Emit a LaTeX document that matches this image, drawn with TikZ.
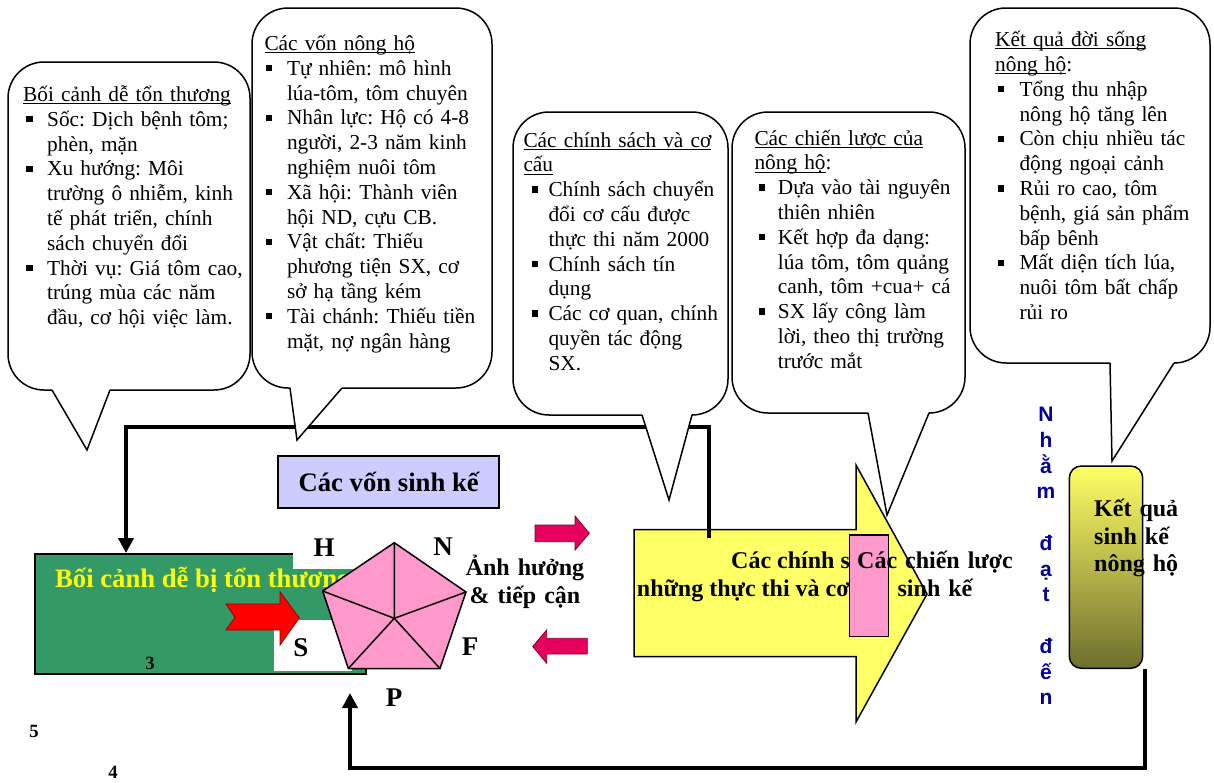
\documentclass[tikz,border=0pt]{standalone}
\usepackage{fontspec}
\setmainfont{Liberation Serif}
\newfontfamily\arialf{Liberation Sans}
\usetikzlibrary{arrows.meta}
\frenchspacing
\definecolor{vgreen}{HTML}{339966}
\definecolor{ptxt}{HTML}{FFFF00}
\definecolor{ppink}{HTML}{FF99CC}
\definecolor{lav}{HTML}{CCCCFF}
\definecolor{yarrow}{HTML}{FFFF66}
\definecolor{crim}{HTML}{E8005E}
\definecolor{nblue}{HTML}{000099}
\definecolor{olivebot}{HTML}{6E6E2D}
\definecolor{olivemid}{HTML}{D4D45A}
\newlength\bitind
\newlength\bitoff
\newcommand\nl{\unskip\hfil\break}
\newcommand\ulx[1]{\leavevmode\setbox0\hbox{#1}\rlap{\rule[-2.6pt]{\wd0}{0.9pt}}\box0}
\newcommand\bit[1]{\par\hangindent=\bitind\hangafter=1\noindent\makebox[\bitind][l]{\hspace{\bitoff}\raisebox{4pt}{\rule{6.4pt}{6.4pt}}}#1\par}
\newcommand\callout[8]{%
 \fill[white,rounded corners=36pt] (#1,#2) rectangle (#3,#4);
 \fill[white] (#5,#4-2) -- (#7,#8) -- (#6,#4-2) -- cycle;
 \draw[callline,rounded corners=36pt] (#5,#4) -- (#1,#4) -- (#1,#2) -- (#3,#2) -- (#3,#4) -- (#6,#4);
 \draw[callline,line join=miter] (#5,#4) -- (#7,#8) -- (#6,#4);}
\begin{document}
\begin{tikzpicture}[x=1pt,y=-1pt,
  callline/.style={line width=1.5pt},
  thickc/.style={line width=4pt,line join=miter},
  ctext/.style={font=\fontsize{21.33}{24.8}\selectfont\frenchspacing,text width=250pt,align=left,inner sep=0pt,anchor=base west},
  bigb/.style={font=\fontsize{24}{28.4}\selectfont\bfseries,inner sep=0pt},
  lett/.style={font=\fontsize{27}{30}\selectfont\bfseries,inner sep=0pt,anchor=base},
  numb/.style={font=\fontsize{18.7}{20}\selectfont\bfseries,inner sep=0pt,anchor=base},
  tip/.style={-{Triangle[width=15pt,length=15pt]}}]
\useasboundingbox (0,0) rectangle (1214,782);

% ---- green vulnerability box
\node[draw,fill=vgreen,line width=1.8pt,minimum width=331pt,minimum height=120pt,inner sep=0pt,anchor=north west] (vul) at (34,553) {};
\fill[white] (293,549) rectangle (367,569);
\fill[white] (274,620) rectangle (352,670.5);
\node[font=\fontsize{26.67}{30}\selectfont\bfseries,text=ptxt,inner sep=0pt,anchor=base west] (vultxt) at (55,587.3) {Bối cảnh dễ bị tổn thương};
\draw[fill=red,draw={rgb,255:red,150;green,0;blue,0},line width=0.8pt] (226,604) -- (280,604) -- (280,591.7) -- (299.3,618) -- (280,645) -- (280,630) -- (226,630) -- (235,617.3) -- cycle;

% ---- pentagon
\coordinate (pA) at (394.3,542.7);
\coordinate (pB) at (466,592);
\coordinate (pC) at (440,668.5);
\coordinate (pD) at (348.3,668.5);
\coordinate (pE) at (322.7,591);
\coordinate (pO) at (394.3,618.3);
\draw[fill=ppink,line width=1.5pt,line join=miter] (pA) -- (pB) -- (pC) -- (pD) -- (pE) -- cycle;
\draw[line width=1.5pt] (pO) -- (pA) (pO) -- (pB) (pO) -- (pC) (pO) -- (pD) (pO) -- (pE);
\node[lett] (lH) at (324,556) {H};
\node[lett] (lN) at (443,555) {N};
\node[lett] (lS) at (301,656.7) {S};
\node[lett] (lF) at (470,655) {F};
\node[lett] (lP) at (394,706.7) {P};

% ---- livelihood assets box
\node[draw,fill=lav,line width=2pt,minimum width=220.7pt,minimum height=51.7pt,inner sep=0pt,
  font=\fontsize{26.67}{30}\selectfont\bfseries,text height=21pt,text depth=1.3pt] (assets) at (388.65,481.85) {Các vốn sinh kế};

% ---- influence arrows
\node[font=\fontsize{24}{28}\selectfont\bfseries,text width=140pt,align=center,inner sep=0pt,anchor=base] (infl) at (525,575) {Ảnh hưởng\\\& tiếp cận};
\draw[fill=crim,draw={rgb,255:red,120;green,0;blue,40},line width=0.8pt] (535,525) -- (575,525) -- (575,516) -- (589.3,533.3) -- (575,550) -- (575,541.7) -- (535,541.7) -- cycle;
\draw[fill=crim,draw={rgb,255:red,120;green,0;blue,40},line width=0.8pt] (587.3,638.3) -- (546.7,638.3) -- (546.7,630) -- (532.7,646.5) -- (546.7,663.3) -- (546.7,654) -- (587.3,654) -- cycle;

% ---- yellow arrow (policies / strategies)
\draw[fill=yarrow,line width=1.5pt,line join=miter] (634,529.5) -- (856,529.5) -- (856,465) -- (927,594) -- (856,722) -- (856,656.7) -- (634,656.7) -- cycle;
\node[bigb,anchor=base west] (pol1) at (731,568.3) {Các chính s};
\node[bigb,anchor=base west] (pol2) at (636.7,596.7) {những thực thi và cơ};
\node[draw,fill=ppink,line width=1.5pt,minimum width=39pt,minimum height=101.7pt,inner sep=0pt] (prect) at (868.8,585.85) {};
\node[bigb,text width=200pt,align=center,anchor=base] (strat) at (935,568.3) {Các chiến lược\\sinh kế};

% ---- outcome box
\node[draw,line width=1.5pt,rounded corners=12pt,top color=yarrow,middle color=olivemid,bottom color=olivebot,
  minimum width=73.4pt,minimum height=202.3pt,inner sep=0pt] (kq) at (1106,567.15) {};
\node[font=\fontsize{24}{27.5}\selectfont\bfseries,text width=100pt,align=left,inner sep=0pt,anchor=base west] (kqtxt) at (1094,516.7) {Kết quả\\sinh kế\\nông hộ};

\node[font=\arialf\fontsize{21}{25.75}\selectfont\bfseries,text=nblue,text width=30pt,align=center,inner sep=0pt,anchor=base] (aim) at (1046,421.7)
 {N\\h\\ằ\\m\\\mbox{}\\đ\\ạ\\t\\\mbox{}\\đ\\ế\\n};

% ---- thick connectors
\coordinate (rend) at (709,538);
\coordinate (tr) at (709,427);
\coordinate (tl) at (126,427);
\draw[thickc,tip] (rend) -- (tr) -- (tl) -- (tl |- vul.north);
\coordinate (bl) at (350,768);
\coordinate (pend) at (350,693);
\draw[thickc,tip] ([xshift=2pt]kq.south east) -- ([xshift=2pt]kq.south east |- bl) -- (bl) -- (pend);

% ---- callouts
\callout{8}{62}{250}{390}{52}{110}{87}{450}
\callout{252}{8}{492}{388}{290}{342}{297}{440}
\callout{513}{112}{728}{415}{642}{692}{669}{500}
\callout{732}{112}{965}{413}{868}{929}{887}{515}
\callout{970}{8}{1210}{363}{1110}{1174}{1112}{461}

\node[ctext] (c1) at (23,101.5) {\setlength\bitind{24pt}\setlength\bitoff{3pt}%
\ulx{Bối cảnh dễ tổn thương}%
\bit{Sốc: Dịch bệnh tôm;\nl phèn, mặn}%
\bit{Xu hướng: Môi\nl trường ô nhiễm, kinh\nl tế phát triển, chính\nl sách chuyển đổi}%
\bit{Thời vụ: Giá tôm cao,\nl trúng mùa các năm\nl đầu, cơ hội việc làm.}};

\node[ctext] (c2) at (264.3,50.5) {\setlength\bitind{22.5pt}\setlength\bitoff{1.5pt}%
\ulx{Các vốn nông hộ}%
\bit{Tự nhiên: mô hình\nl lúa-tôm, tôm chuyên}%
\bit{Nhân lực: Hộ có 4-8\nl người, 2-3 năm kinh\nl nghiệm nuôi tôm}%
\bit{Xã hội: Thành viên\nl hội ND, cựu CB.}%
\bit{Vật chất: Thiếu\nl phương tiện SX, cơ\nl sở hạ tầng kém}%
\bit{Tài chánh: Thiếu tiền\nl mặt, nợ ngân hàng}};

\node[ctext] (c3) at (523.3,147) {\setlength\bitind{25pt}\setlength\bitoff{8pt}%
\ulx{Các chính sách và cơ}\nl\ulx{cấu}%
\bit{Chính sách chuyển\nl đổi cơ cấu được\nl thực thi năm 2000}%
\bit{Chính sách tín\nl dụng}%
\bit{Các cơ quan, chính\nl quyền tác động\nl SX.}};

\node[ctext] (c4) at (754.3,145) {\setlength\bitind{23.4pt}\setlength\bitoff{4pt}%
\ulx{Các chiến lược của}\nl\ulx{nông hộ}:%
\bit{Dựa vào tài nguyên\nl thiên nhiên}%
\bit{Kết hợp đa dạng:\nl lúa tôm, tôm quảng\nl canh, tôm +cua+ cá}%
\bit{SX lấy công làm\nl lời, theo thị trường\nl trước mắt}};

\node[ctext] (c5) at (995,46.7) {\setlength\bitind{24.3pt}\setlength\bitoff{2.3pt}%
\ulx{Kết quả đời sống}\nl\ulx{nông hộ}:%
\bit{Tổng thu nhập\nl nông hộ tăng lên}%
\bit{Còn chịu nhiều tác\nl động ngoại cảnh}%
\bit{Rủi ro cao, tôm\nl bệnh, giá sản phẩm\nl bấp bênh}%
\bit{Mất diện tích lúa,\nl nuôi tôm bất chấp\nl rủi ro}};

% ---- numbers
\node[numb] (n3) at (150,669) {3};
\node[numb] (n5) at (34,737) {5};
\node[numb] (n4) at (113,778) {4};
\end{tikzpicture}
\end{document}
